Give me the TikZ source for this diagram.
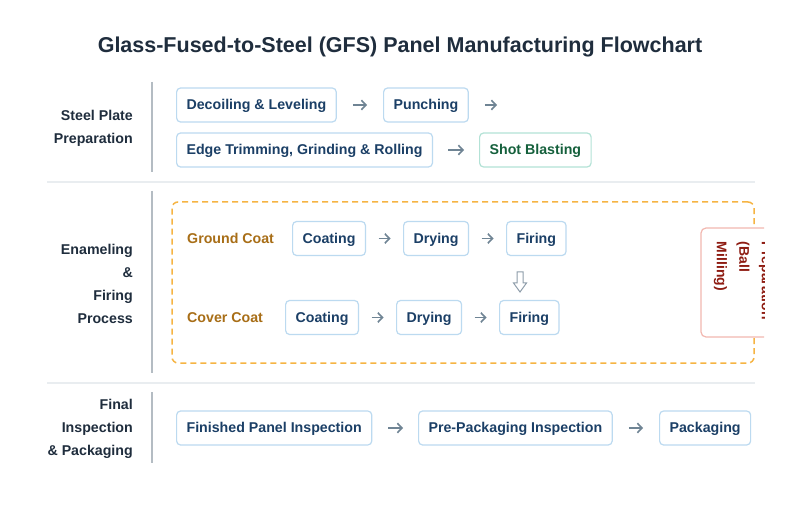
\documentclass[tikz,border=0pt]{standalone}
\usepackage{fontspec}
\setmainfont{Liberation Sans}
\usetikzlibrary{arrows.meta}
\definecolor{navy}{HTML}{1F2D3D}
\definecolor{boxtxt}{HTML}{1B3F66}
\definecolor{boxbd}{HTML}{BCDAF0}
\definecolor{grntxt}{HTML}{15603C}
\definecolor{grnbd}{HTML}{B3E2D6}
\definecolor{arrcol}{HTML}{6F8494}
\definecolor{vline}{HTML}{B4BCC3}
\definecolor{hline}{HTML}{E9EDF0}
\definecolor{orng}{HTML}{F6B443}
\definecolor{coattxt}{HTML}{A86E17}
\definecolor{redbd}{HTML}{F2B8B0}
\definecolor{redtxt}{HTML}{8E1C12}
\definecolor{dnarr}{HTML}{8E9DAA}
\begin{document}
\begin{tikzpicture}[x=1pt,y=-1pt,
  font=\bfseries\fontsize{14.2}{16}\selectfont,
  stepbox/.style={draw=boxbd, line width=1.2pt, rounded corners=4pt, fill=white,
    text=boxtxt, inner xsep=10pt, inner ysep=0pt, minimum height=34pt, anchor=west,
    text height=12.7pt, text depth=3pt},
  arr/.style={draw=arrcol, line width=1.6pt, -{Straight Barb[length=4.5pt,width=9.5pt]}},
  sectlabel/.style={align=right, anchor=east, text=navy, inner sep=0pt,
    font=\bfseries\fontsize{14.2}{23}\selectfont},
  coatlabel/.style={anchor=west, text=coattxt, inner sep=0pt, text height=12.7pt, text depth=3pt},
  sepline/.style={draw=hline, line width=2pt},
  sectbar/.style={draw=vline, line width=2pt}]
\fill[white] (0,0) rectangle (800,518);
\useasboundingbox (0,0) rectangle (800,518);

% title
\node[text=navy, font=\bfseries\fontsize{21.5}{24}\selectfont] (title) at (400,47)
  {Glass-Fused-to-Steel (GFS) Panel Manufacturing Flowchart};

% separators
\draw[sepline] (47,182) -- (755,182);
\draw[sepline] (47,383) -- (755,383);
\draw[sectbar] (152,82) -- (152,172);
\draw[sectbar] (152,191) -- (152,373);
\draw[sectbar] (152,392) -- (152,463);

% section 1
\node[sectlabel] (s1) at (133,128.5) {Steel Plate\\Preparation};
\node[stepbox] (dec) at (176,105) {Decoiling \& Leveling};
\node[stepbox] (pun) at (383,105) {Punching};
\coordinate (pend) at (497,105);
\node[stepbox] (edge) at (176,150) {Edge Trimming, Grinding \& Rolling};
\node[stepbox, draw=grnbd, text=grntxt] (shot) at (479,150) {Shot Blasting};
\draw[arr] ([xshift=16pt]dec.east) -- ([xshift=-16pt]pun.west);
\draw[arr] ([xshift=16pt]pun.east) -- (pend);
\draw[arr] ([xshift=15pt]edge.east) -- ([xshift=-15pt]shot.west);

% section 2
\node[sectlabel] (s2) at (133,283.5) {Enameling\\\&\\Firing\\Process};
\node[draw=orng, line width=1.5pt, dash pattern=on 6pt off 4pt, rounded corners=6pt,
  minimum width=582pt, minimum height=161pt, inner sep=0pt] (grp) at (463,282.5) {};
\node[coatlabel] (gc) at (187,238.5) {Ground Coat};
\node[stepbox] (gcoat) at (292,238.5) {Coating};
\node[stepbox] (gdry) at (403,238.5) {Drying};
\node[stepbox] (gfire) at (506,238.5) {Firing};
\node[coatlabel] (cc) at (187,317.5) {Cover Coat};
\node[stepbox] (ccoat) at (285,317.5) {Coating};
\node[stepbox] (cdry) at (396,317.5) {Drying};
\node[stepbox] (cfire) at (499,317.5) {Firing};
\draw[arr] ([xshift=12.5pt]gcoat.east) -- ([xshift=-12.5pt]gdry.west);
\draw[arr] ([xshift=12.5pt]gdry.east) -- ([xshift=-12.5pt]gfire.west);
\draw[arr] ([xshift=12.5pt]ccoat.east) -- ([xshift=-12.5pt]cdry.west);
\draw[arr] ([xshift=12.5pt]cdry.east) -- ([xshift=-12.5pt]cfire.west);
\coordinate (dn) at (520,272);
\draw[draw=dnarr, line width=1pt, line join=miter, fill=white]
  (dn) ++(-3,0) -- ++(6,0) -- ++(0,11) -- ++(3.5,0) -- (520,292) -- (513.5,283) -- (517,283) -- cycle;

\begin{scope}
\clip (0,0) rectangle (764,518);
\node[draw=redbd, fill=white, line width=1.2pt, rounded corners=5pt, rotate=-90,
  minimum width=109pt, minimum height=84pt, text width=81pt, align=left,
  inner xsep=14pt, inner ysep=0pt, text=redtxt,
  font=\bfseries\fontsize{14}{22.5}\selectfont] (prep) at (743,282.5)
  {Preparation\\(Ball\\Milling)};
\end{scope}

% section 3
\node[sectlabel] (s3) at (133,428.5) {Final\\Inspection\\\& Packaging};
\node[stepbox] (fin) at (176,428) {Finished Panel Inspection};
\node[stepbox] (pre) at (418,428) {Pre-Packaging Inspection};
\node[stepbox] (pack) at (659,428) {Packaging};
\draw[arr] ([xshift=16pt]fin.east) -- ([xshift=-15pt]pre.west);
\draw[arr] ([xshift=16pt]pre.east) -- ([xshift=-16pt]pack.west);
\end{tikzpicture}
\end{document}
